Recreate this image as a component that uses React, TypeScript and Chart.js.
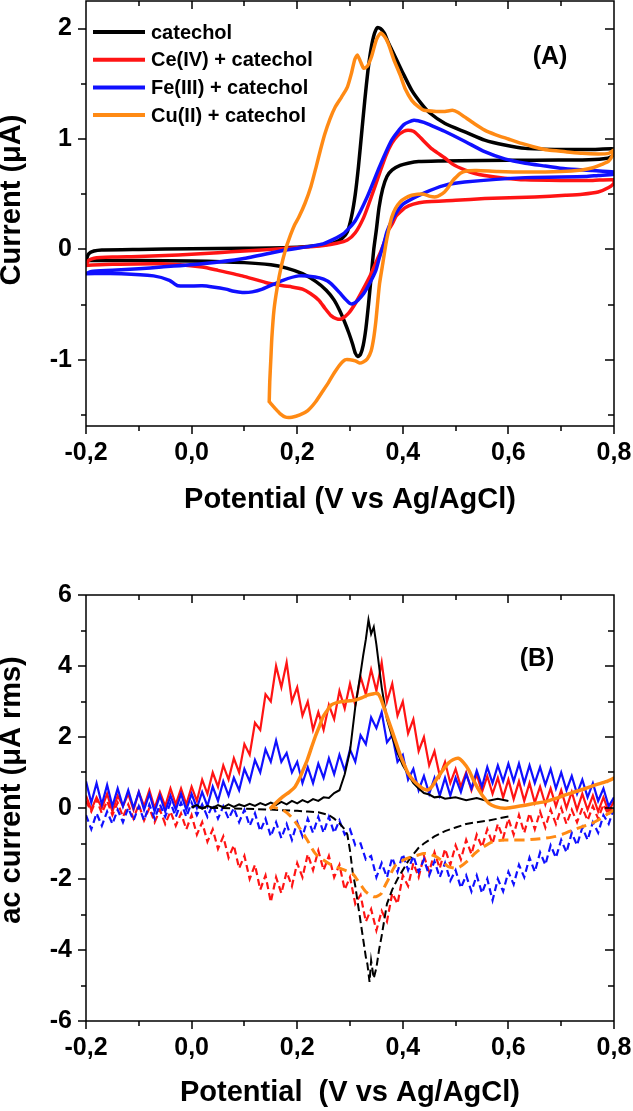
import React, { useEffect, useRef } from "react";
import { Chart, registerables } from "chart.js";
Chart.register(...registerables);

const FONT = "'Liberation Sans', Arial, Helvetica, sans-serif";
const BLACK = "#000000";
const RED = "#ff1414";
const BLUE = "#1010ff";
const ORANGE = "#ff8a14";

// ---------- axes ----------
const X_TICKS = [-0.2, 0, 0.2, 0.4, 0.6, 0.8];
const X_MINOR = [-0.1, 0.1, 0.3, 0.5, 0.7];
const YA_TICKS = [-1, 0, 1, 2];
const YA_MINOR = [-1.5, -0.5, 0.5, 1.5];
const YB_TICKS = [-6, -4, -2, 0, 2, 4, 6];
const YB_MINOR = [-5, -3, -1, 1, 3, 5];

const LEGEND_LABELS = ["catechol", "Ce(IV) + catechol", "Fe(III) + catechol", "Cu(II) + catechol"];
const LEGEND_COLORS = [BLACK, RED, BLUE, ORANGE];

// ---------- panel A: cyclic voltammograms [V, μA] ----------
const CATECHOL_A: number[][] = [
  [-0.2, -0.1], [-0.195, -0.04], [-0.185, -0.015], [-0.17, -0.005], [-0.1, 0.0], [0.0, 0.005], [0.1, 0.01],
  [0.2, 0.02], [0.24, 0.035], [0.27, 0.06], [0.285, 0.1], [0.295, 0.16], [0.303, 0.3], [0.31, 0.5],
  [0.316, 0.75], [0.322, 1.05], [0.328, 1.35], [0.334, 1.62], [0.34, 1.82], [0.346, 1.95], [0.352, 2.01],
  [0.358, 2.0], [0.365, 1.96], [0.372, 1.88], [0.38, 1.8], [0.39, 1.7], [0.4, 1.6], [0.417, 1.44],
  [0.435, 1.32], [0.45, 1.24], [0.48, 1.14], [0.52, 1.06], [0.555, 0.99], [0.593, 0.945], [0.632, 0.915],
  [0.7, 0.905], [0.76, 0.905], [0.8, 0.91],
  [0.8, 0.88], [0.795, 0.84], [0.78, 0.82], [0.74, 0.81], [0.65, 0.808], [0.55, 0.805], [0.47, 0.8],
  [0.43, 0.795], [0.41, 0.78], [0.395, 0.76], [0.38, 0.72], [0.37, 0.66], [0.362, 0.55], [0.355, 0.38],
  [0.35, 0.18], [0.345, 0.0], [0.34, -0.25], [0.335, -0.5], [0.33, -0.72], [0.325, -0.87], [0.32, -0.95],
  [0.315, -0.97], [0.31, -0.94], [0.305, -0.86], [0.298, -0.76], [0.29, -0.66], [0.28, -0.55], [0.27, -0.46],
  [0.255, -0.37], [0.235, -0.29], [0.21, -0.22], [0.18, -0.17], [0.15, -0.14], [0.1, -0.12], [0.0, -0.105],
  [-0.1, -0.1], [-0.2, -0.1],
];
const CE_A: number[][] = [
  [-0.2, -0.14], [-0.195, -0.1], [-0.185, -0.08], [-0.15, -0.07], [-0.1, -0.065], [-0.05, -0.055], [0.0, -0.045],
  [0.05, -0.03], [0.1, -0.015], [0.15, 0.0], [0.2, 0.015], [0.25, 0.035], [0.275, 0.055], [0.295, 0.085],
  [0.31, 0.15], [0.326, 0.29], [0.34, 0.47], [0.356, 0.69], [0.368, 0.85], [0.379, 0.96], [0.39, 1.03],
  [0.402, 1.07], [0.41, 1.08], [0.42, 1.07], [0.43, 1.03], [0.44, 0.98], [0.455, 0.91], [0.47, 0.86],
  [0.479, 0.83], [0.495, 0.77], [0.517, 0.72], [0.535, 0.69], [0.555, 0.67], [0.593, 0.645], [0.632, 0.63],
  [0.7, 0.625], [0.76, 0.625], [0.8, 0.63],
  [0.8, 0.6], [0.79, 0.56], [0.77, 0.52], [0.74, 0.5], [0.708, 0.49], [0.65, 0.475], [0.555, 0.46],
  [0.5, 0.445], [0.44, 0.43], [0.42, 0.41], [0.405, 0.38], [0.395, 0.34], [0.387, 0.3], [0.38, 0.23],
  [0.372, 0.17], [0.366, 0.08], [0.36, 0.0], [0.35, -0.11], [0.34, -0.22], [0.325, -0.36], [0.31, -0.49],
  [0.297, -0.58], [0.284, -0.63], [0.275, -0.63], [0.264, -0.6], [0.252, -0.53], [0.241, -0.46], [0.225, -0.4],
  [0.21, -0.36], [0.19, -0.34], [0.173, -0.33], [0.14, -0.3], [0.096, -0.24], [0.05, -0.19], [0.02, -0.16],
  [-0.057, -0.13], [-0.15, -0.135], [-0.2, -0.145],
];
const FE_A: number[][] = [
  [-0.2, -0.22], [-0.19, -0.2], [-0.15, -0.19], [-0.1, -0.175], [-0.057, -0.16], [0.02, -0.13], [0.096, -0.085],
  [0.173, -0.01], [0.249, 0.05], [0.287, 0.14], [0.31, 0.26], [0.333, 0.48], [0.356, 0.75], [0.379, 0.99],
  [0.402, 1.13], [0.421, 1.17], [0.44, 1.15], [0.46, 1.11], [0.479, 1.07], [0.517, 0.98], [0.555, 0.885],
  [0.593, 0.82], [0.632, 0.78], [0.67, 0.755], [0.708, 0.73], [0.76, 0.715], [0.8, 0.7],
  [0.8, 0.68], [0.77, 0.67], [0.746, 0.66], [0.632, 0.65], [0.517, 0.61], [0.479, 0.58], [0.44, 0.51],
  [0.402, 0.415], [0.39, 0.35], [0.379, 0.26], [0.37, 0.16], [0.364, 0.05], [0.356, -0.07], [0.349, -0.19],
  [0.338, -0.3], [0.326, -0.4], [0.315, -0.46], [0.307, -0.49], [0.3, -0.49], [0.291, -0.45], [0.28, -0.39],
  [0.264, -0.31], [0.25, -0.27], [0.234, -0.25], [0.203, -0.24], [0.173, -0.28], [0.134, -0.36], [0.115, -0.385],
  [0.096, -0.39], [0.08, -0.38], [0.065, -0.36], [0.04, -0.34], [0.02, -0.33], [-0.026, -0.33], [-0.042, -0.28],
  [-0.072, -0.24], [-0.133, -0.22], [-0.2, -0.22],
];
const CU_A: number[][] = [
  [0.147, -1.38], [0.148, -1.2], [0.15, -1.0], [0.152, -0.8], [0.156, -0.55], [0.162, -0.35], [0.17, -0.15],
  [0.178, 0.0], [0.185, 0.1], [0.195, 0.22], [0.203, 0.29], [0.215, 0.42], [0.226, 0.57], [0.236, 0.75],
  [0.244, 0.9], [0.252, 1.04], [0.262, 1.18], [0.272, 1.29], [0.284, 1.38], [0.295, 1.47], [0.303, 1.6],
  [0.309, 1.72], [0.314, 1.76], [0.32, 1.7], [0.326, 1.64], [0.333, 1.66], [0.341, 1.75], [0.35, 1.9],
  [0.358, 1.96], [0.365, 1.93], [0.372, 1.87], [0.383, 1.72], [0.395, 1.58], [0.405, 1.45], [0.417, 1.35],
  [0.43, 1.29], [0.44, 1.26], [0.463, 1.25], [0.48, 1.25], [0.494, 1.26], [0.505, 1.24], [0.517, 1.2],
  [0.535, 1.14], [0.555, 1.08], [0.575, 1.04], [0.6, 1.0], [0.625, 0.96], [0.647, 0.93], [0.675, 0.9],
  [0.708, 0.885], [0.74, 0.87], [0.77, 0.865], [0.79, 0.87], [0.8, 0.9],
  [0.8, 0.88], [0.79, 0.8], [0.777, 0.77], [0.76, 0.74], [0.739, 0.72], [0.7, 0.705], [0.632, 0.7],
  [0.58, 0.705], [0.54, 0.715], [0.52, 0.71], [0.509, 0.69], [0.5, 0.65], [0.494, 0.62], [0.486, 0.56],
  [0.479, 0.52], [0.47, 0.49], [0.463, 0.476], [0.452, 0.48], [0.44, 0.5], [0.428, 0.5], [0.417, 0.49],
  [0.405, 0.465], [0.395, 0.43], [0.386, 0.37], [0.379, 0.29], [0.373, 0.17], [0.368, 0.05], [0.362, -0.13],
  [0.356, -0.31], [0.352, -0.5], [0.349, -0.65], [0.345, -0.8], [0.34, -0.92], [0.333, -0.99], [0.325, -1.02],
  [0.318, -1.03], [0.31, -1.01], [0.3, -1.0], [0.291, -1.0], [0.28, -1.05], [0.27, -1.12], [0.26, -1.2],
  [0.249, -1.28], [0.235, -1.38], [0.22, -1.46], [0.205, -1.5], [0.19, -1.52], [0.178, -1.52], [0.168, -1.49],
  [0.158, -1.44], [0.147, -1.38],
];

// ---------- panel B: ac voltammograms ----------
const POT_B = [
  -0.2, -0.19, -0.18, -0.17, -0.16, -0.15, -0.14, -0.13, -0.12, -0.11, -0.1, -0.09, -0.08, -0.07, -0.06, -0.05,
  -0.04, -0.03, -0.02, -0.01, 0.0, 0.01, 0.02, 0.03, 0.04, 0.05, 0.06, 0.07, 0.08, 0.09, 0.1, 0.11, 0.12, 0.13,
  0.14, 0.15, 0.16, 0.17, 0.18, 0.19, 0.2, 0.21, 0.22, 0.23, 0.24, 0.25, 0.26, 0.27, 0.28, 0.29, 0.3, 0.31, 0.32,
  0.33, 0.34, 0.35, 0.36, 0.37, 0.38, 0.39, 0.4, 0.41, 0.42, 0.43, 0.44, 0.45, 0.46, 0.47, 0.48, 0.49, 0.5, 0.51,
  0.52, 0.53, 0.54, 0.55, 0.56, 0.57, 0.58, 0.59, 0.6, 0.61, 0.62, 0.63, 0.64, 0.65, 0.66, 0.67, 0.68, 0.69, 0.7,
  0.71, 0.72, 0.73, 0.74, 0.75, 0.76, 0.77, 0.78, 0.79, 0.8,
];
const CE_B_FWD = [
  0.35, -0.05, 0.3, 0.0, 0.4, -0.1, 0.35, 0.05, 0.4, -0.05, 0.45, 0.05, 0.5, 0.0, 0.45, 0.05,
  0.55, 0.1, 0.55, 0.1, 0.6, 0.2, 0.8, 0.4, 1.0, 0.6, 1.2, 0.8, 1.4, 1.0, 1.8, 1.5, 2.4, 2.2,
  3.2, 3.0, 4.0, 3.4, 4.1, 3.0, 3.4, 2.6, 3.0, 2.2, 2.7, 2.2, 2.9, 2.5, 3.3, 2.8, 3.5, 2.9, 3.7,
  3.2, 3.9, 3.3, 4.1, 3.0, 3.5, 2.6, 3.0, 2.1, 2.5, 1.6, 2.0, 1.2, 1.6, 0.9, 1.3, 0.7, 1.1, 0.6,
  1.0, 0.5, 0.95, 0.45, 0.9, 0.4, 0.85, 0.3, 0.8, 0.25, 0.75, 0.2, 0.7, 0.15, 0.6, 0.1, 0.55, 0.05, 0.5,
  0.0, 0.45, -0.05, 0.4, -0.05, 0.35, -0.1, 0.3, -0.1, 0.2,
];
const CE_B_REV = [
  0.2, -0.1, 0.25, -0.15, 0.2, -0.2, 0.15, -0.25, 0.1, -0.3, 0.1, -0.35, 0.0, -0.4, -0.05, -0.45,
  -0.1, -0.5, -0.15, -0.6, -0.2, -0.75, -0.4, -0.95, -0.6, -1.15, -0.8, -1.4, -1.05, -1.7, -1.35, -2.0, -1.6, -2.3,
  -1.9, -2.65, -1.95, -2.4, -1.8, -2.2, -1.55, -1.95, -1.3, -1.75, -1.2, -1.75, -1.35, -1.95, -1.6, -2.3, -1.95, -2.7, -2.45,
  -3.2, -2.85, -3.45, -2.9, -3.2, -2.4, -2.7, -1.9, -2.2, -1.55, -1.95, -1.35, -1.8, -1.25, -1.7, -1.15, -1.6, -1.05, -1.45,
  -0.9, -1.3, -0.75, -1.1, -0.6, -1.0, -0.45, -0.85, -0.3, -0.75, -0.2, -0.7, -0.15, -0.6, -0.1, -0.55, -0.05, -0.45, 0.0,
  -0.45, -0.05, -0.4, 0.0, -0.35, 0.05, -0.3, 0.1, -0.2, 0.2,
];
const FE_B_FWD = [
  0.75, 0.15, 0.7, 0.1, 0.65, 0.05, 0.55, 0.05, 0.5, 0.0, 0.45, -0.05, 0.4, -0.1, 0.35, -0.1,
  0.35, -0.05, 0.4, -0.05, 0.4, 0.0, 0.45, 0.05, 0.6, 0.2, 0.75, 0.35, 0.85, 0.5, 1.1, 0.75, 1.35, 1.0,
  1.65, 1.3, 1.9, 1.3, 1.55, 1.0, 1.3, 0.7, 1.15, 0.7, 1.25, 0.85, 1.4, 0.95, 1.5, 1.05, 1.65, 1.3, 2.05,
  1.8, 2.55, 2.25, 2.7, 1.85, 2.05, 1.3, 1.5, 0.8, 1.1, 0.5, 0.9, 0.4, 0.85, 0.35, 0.85, 0.35, 0.85, 0.45,
  0.95, 0.55, 1.05, 0.6, 1.15, 0.7, 1.2, 0.75, 1.25, 0.75, 1.25, 0.7, 1.2, 0.7, 1.15, 0.65, 1.1, 0.55, 1.0,
  0.5, 0.9, 0.4, 0.8, 0.3, 0.7, 0.2, 0.55, 0.05, 0.3,
];
const FE_B_REV = [
  -0.2, -0.6, -0.15, -0.5, -0.1, -0.45, -0.05, -0.4, 0.0, -0.35, 0.05, -0.35, 0.1, -0.3, 0.1, -0.25,
  0.15, -0.25, 0.15, -0.25, 0.15, -0.2, 0.1, -0.25, 0.1, -0.3, 0.05, -0.3, 0.0, -0.4, -0.05, -0.5, -0.15, -0.65,
  -0.3, -0.8, -0.4, -0.85, -0.45, -0.9, -0.4, -0.8, -0.3, -0.7, -0.25, -0.7, -0.25, -0.7, -0.35, -0.75, -0.6, -1.05, -1.0,
  -1.45, -1.35, -1.95, -1.55, -1.95, -1.4, -1.8, -1.3, -1.75, -1.35, -1.8, -1.45, -1.9, -1.5, -1.95, -1.55, -2.05, -1.75, -2.25,
  -1.9, -2.35, -1.9, -2.4, -2.0, -2.6, -2.0, -2.35, -1.8, -2.15, -1.6, -1.95, -1.4, -1.8, -1.25, -1.6, -1.05, -1.4, -0.9,
  -1.25, -0.7, -1.05, -0.55, -0.9, -0.4, -0.7, -0.2, -0.45, 0.0,
];
const CATECHOL_B_FWD: number[][] = [
  [0.0, 0.02], [0.01, 0.08], [0.02, -0.02], [0.03, 0.06], [0.04, 0.0], [0.05, 0.08], [0.06, 0.02], [0.07, 0.1],
  [0.08, 0.03], [0.09, 0.1], [0.1, 0.05], [0.11, 0.12], [0.12, 0.06], [0.13, 0.14], [0.14, 0.08], [0.15, 0.15],
  [0.16, 0.09], [0.17, 0.17], [0.18, 0.1], [0.19, 0.2], [0.2, 0.13], [0.21, 0.22], [0.22, 0.16], [0.23, 0.25],
  [0.24, 0.2], [0.25, 0.3], [0.26, 0.28], [0.27, 0.42], [0.28, 0.5], [0.29, 0.95], [0.3, 1.6], [0.31, 2.85],
  [0.32, 3.8], [0.325, 4.3], [0.33, 4.75], [0.335, 5.3], [0.34, 4.9], [0.345, 5.1], [0.35, 4.6], [0.355, 4.0],
  [0.36, 3.4], [0.37, 2.5], [0.38, 2.0], [0.39, 1.55], [0.4, 1.2], [0.41, 0.95], [0.42, 0.7], [0.43, 0.55],
  [0.44, 0.42], [0.45, 0.38], [0.46, 0.3], [0.47, 0.32], [0.48, 0.26], [0.5, 0.3], [0.52, 0.22], [0.54, 0.28],
  [0.56, 0.2], [0.58, 0.26], [0.6, 0.2],
];
const CATECHOL_B_REV: number[][] = [
  [0.6, -0.24], [0.58, -0.3], [0.56, -0.36], [0.54, -0.4], [0.52, -0.45], [0.5, -0.55], [0.48, -0.65],
  [0.46, -0.8], [0.45, -0.9], [0.44, -1.0], [0.43, -1.12], [0.42, -1.3], [0.41, -1.5], [0.4, -1.75],
  [0.39, -2.0], [0.38, -2.3], [0.37, -2.7], [0.36, -3.6], [0.355, -4.0], [0.35, -4.5], [0.345, -4.8],
  [0.34, -4.3], [0.337, -4.9], [0.333, -4.4], [0.33, -4.2], [0.325, -3.7], [0.32, -3.2], [0.315, -2.7],
  [0.31, -2.2], [0.305, -1.8], [0.3, -1.2], [0.295, -0.75], [0.29, -0.6], [0.28, -0.43], [0.27, -0.3],
  [0.26, -0.2], [0.24, -0.12], [0.22, -0.1], [0.2, -0.08], [0.17, -0.06], [0.14, -0.04], [0.1, -0.02],
  [0.05, 0.0], [0.0, 0.02],
];
const CU_B_FWD: number[][] = [
  [0.15, 0.0], [0.16, 0.15], [0.173, 0.32], [0.185, 0.45], [0.196, 0.6], [0.205, 0.85], [0.212, 1.1],
  [0.219, 1.35], [0.227, 1.7], [0.234, 2.0], [0.242, 2.3], [0.249, 2.57], [0.257, 2.75], [0.264, 2.9],
  [0.275, 2.97], [0.287, 3.0], [0.3, 3.02], [0.31, 3.04], [0.322, 3.1], [0.333, 3.18], [0.345, 3.22],
  [0.352, 3.23], [0.358, 3.1], [0.364, 2.85], [0.372, 2.5], [0.379, 2.2], [0.387, 1.85], [0.394, 1.54],
  [0.402, 1.25], [0.41, 0.98], [0.42, 0.78], [0.433, 0.6], [0.44, 0.53], [0.448, 0.51], [0.455, 0.6],
  [0.463, 0.79], [0.475, 1.05], [0.486, 1.26], [0.495, 1.36], [0.505, 1.4], [0.515, 1.28], [0.525, 1.07],
  [0.535, 0.75], [0.548, 0.41], [0.556, 0.25], [0.563, 0.13], [0.575, 0.04], [0.593, -0.01], [0.612, 0.03],
  [0.632, 0.08], [0.65, 0.13], [0.67, 0.18], [0.69, 0.27], [0.708, 0.37], [0.725, 0.45], [0.746, 0.55],
  [0.765, 0.65], [0.785, 0.74], [0.8, 0.84],
];
const CU_B_REV: number[][] = [
  [0.8, -0.05], [0.79, -0.15], [0.77, -0.34], [0.755, -0.45], [0.739, -0.53], [0.72, -0.63], [0.708, -0.71],
  [0.69, -0.8], [0.67, -0.85], [0.65, -0.88], [0.632, -0.9], [0.61, -0.9], [0.593, -0.9], [0.57, -0.95],
  [0.548, -1.14], [0.535, -1.3], [0.525, -1.46], [0.512, -1.62], [0.502, -1.7], [0.486, -1.65], [0.475, -1.5],
  [0.463, -1.37], [0.45, -1.3], [0.44, -1.28], [0.428, -1.33], [0.417, -1.37], [0.402, -1.46], [0.387, -1.6],
  [0.379, -1.8], [0.372, -2.03], [0.366, -2.2], [0.36, -2.4], [0.352, -2.48], [0.345, -2.5], [0.338, -2.45],
  [0.33, -2.36], [0.322, -2.2], [0.314, -2.03], [0.305, -1.85], [0.295, -1.78], [0.285, -1.72], [0.272, -1.65],
  [0.264, -1.6], [0.249, -1.46], [0.234, -1.28], [0.219, -0.9], [0.203, -0.53], [0.188, -0.24], [0.173, -0.06],
  [0.15, 0.04],
];

// ---------- helpers ----------
const pairs = (arr: number[][]) => arr.map(([x, y]) => ({ x, y }));
const zipPot = (ys: number[]) => ys.map((y, i) => ({ x: POT_B[i], y }));
const fmtX = (v: number) => (Math.abs(v) < 1e-9 ? "0,0" : v.toFixed(1).replace(".", ","));

type FrameCfg = {
  xMajor: number[]; xMinor: number[]; yMajor: number[]; yMinor: number[];
  xTitle: string; xTitleY: number; yTitle: string; yTitleX: number; yTitleY: number;
  panel: string; panelX: number; panelY: number; legend: boolean;
};

function framePlugin(c: FrameCfg) {
  return {
    id: "frame",
    afterDraw(chart: any) {
      const { ctx, chartArea: a } = chart;
      const xs = chart.scales.x;
      const ys = chart.scales.y;
      ctx.save();
      ctx.strokeStyle = "#000";
      ctx.lineWidth = 1.5;
      ctx.beginPath();
      ctx.rect(a.left, a.top, a.right - a.left, a.bottom - a.top);
      const MAJ = 8, MIN = 5;
      const xt = (vals: number[], len: number) => {
        for (const v of vals) {
          const p = Math.round(xs.getPixelForValue(v));
          ctx.moveTo(p, a.bottom); ctx.lineTo(p, a.bottom + len);
          ctx.moveTo(p, a.top); ctx.lineTo(p, a.top + len);
        }
      };
      const yt = (vals: number[], len: number) => {
        for (const v of vals) {
          const p = Math.round(ys.getPixelForValue(v));
          ctx.moveTo(a.left, p); ctx.lineTo(a.left - len, p);
          ctx.moveTo(a.right, p); ctx.lineTo(a.right - len - 1, p);
        }
      };
      xt(c.xMajor, MAJ); xt(c.xMinor, MIN);
      yt(c.yMajor, MAJ); yt(c.yMinor, MIN);
      ctx.stroke();

      ctx.fillStyle = "#000";
      ctx.textAlign = "center";
      ctx.textBaseline = "middle";
      ctx.font = `bold 29px ${FONT}`;
      ctx.fillText(c.xTitle, (a.left + a.right) / 2, c.xTitleY);
      ctx.save();
      ctx.translate(c.yTitleX, c.yTitleY);
      ctx.rotate(-Math.PI / 2);
      ctx.fillText(c.yTitle, 0, 0);
      ctx.restore();

      ctx.font = `bold 25px ${FONT}`;
      ctx.fillText(c.panel, c.panelX, c.panelY);

      if (c.legend) {
        ctx.textAlign = "left";
        ctx.font = `bold 20px ${FONT}`;
        LEGEND_LABELS.forEach((lab, i) => {
          const yy = 32 + i * 27.7;
          ctx.strokeStyle = LEGEND_COLORS[i];
          ctx.lineWidth = 4;
          ctx.beginPath();
          ctx.moveTo(93, yy); ctx.lineTo(145, yy);
          ctx.stroke();
          ctx.fillStyle = "#000";
          ctx.fillText(lab, 151, yy + 1);
        });
      }
      ctx.restore();
    },
  };
}

const zeroPad = (s: any) => {
  s.paddingTop = 0; s.paddingBottom = 0; s.paddingLeft = 0; s.paddingRight = 0;
};

function makeScales(yMin: number, yMax: number, yTicks: number[], xHeight: number) {
  const tickFont = { family: FONT, size: 25, weight: "bold" as const };
  return {
    x: {
      type: "linear" as const, min: -0.2, max: 0.8,
      afterBuildTicks: (s: any) => { s.ticks = X_TICKS.map((value) => ({ value })); },
      afterFit: (s: any) => { s.height = xHeight; zeroPad(s); },
      grid: { display: false, drawTicks: false },
      border: { display: false },
      ticks: { autoSkip: false, maxRotation: 0, minRotation: 0, padding: 12, color: "#000", font: tickFont, callback: (v: any) => fmtX(Number(v)) },
    },
    y: {
      type: "linear" as const, min: yMin, max: yMax,
      afterBuildTicks: (s: any) => { s.ticks = yTicks.map((value) => ({ value })); },
      afterFit: (s: any) => { s.width = 86; zeroPad(s); },
      grid: { display: false, drawTicks: false },
      border: { display: false },
      ticks: { autoSkip: false, padding: 14, color: "#000", font: tickFont, callback: (v: any) => String(Math.round(Number(v))) },
    },
  };
}

function useChart(ref: React.RefObject<HTMLCanvasElement>, build: () => any) {
  useEffect(() => {
    if (!ref.current) return;
    const chart = new Chart(ref.current, build());
    return () => chart.destroy();
  }, []);
}

const lineA = (label: string, data: number[][], color: string) => ({
  label, data: pairs(data), borderColor: color, backgroundColor: color, borderWidth: 3.5,
  pointRadius: 0, showLine: true, tension: 0.2, borderCapStyle: "round", borderJoinStyle: "round",
});

export default function App() {
  const refA = useRef<HTMLCanvasElement>(null);
  const refB = useRef<HTMLCanvasElement>(null);

  useChart(refA, () => ({
    type: "scatter",
    data: {
      datasets: [
        lineA(LEGEND_LABELS[3], CU_A, ORANGE),
        lineA(LEGEND_LABELS[2], FE_A, BLUE),
        lineA(LEGEND_LABELS[1], CE_A, RED),
        lineA(LEGEND_LABELS[0], CATECHOL_A, BLACK),
      ],
    },
    options: {
      animation: false, responsive: false, maintainAspectRatio: false,
      layout: { padding: { top: 1, right: 19, left: 0, bottom: 0 } },
      plugins: { legend: { display: false }, tooltip: { enabled: false } },
      scales: makeScales(-1.6, 2.25, YA_TICKS, 114),
    },
    plugins: [framePlugin({
      xMajor: X_TICKS, xMinor: X_MINOR, yMajor: YA_TICKS, yMinor: YA_MINOR,
      xTitle: "Potential (V vs Ag/AgCl)", xTitleY: 500,
      yTitle: "Current (μA)", yTitleX: 12, yTitleY: 200,
      panel: "(A)", panelX: 550, panelY: 57, legend: true,
    })],
  }));

  useChart(refB, () => ({
    type: "scatter",
    data: {
      datasets: [
        { label: "Cu(II) + catechol", data: pairs(CU_B_FWD), borderColor: ORANGE, borderWidth: 3.5, pointRadius: 0, showLine: true, tension: 0.2, borderCapStyle: "round" },
        { label: "Cu(II) + catechol (reverse)", data: pairs(CU_B_REV), borderColor: ORANGE, borderWidth: 3, pointRadius: 0, showLine: true, tension: 0.2, borderDash: [10, 6] },
        { label: "catechol", data: pairs(CATECHOL_B_FWD), borderColor: BLACK, borderWidth: 2, pointRadius: 0, showLine: true },
        { label: "catechol (reverse)", data: pairs(CATECHOL_B_REV), borderColor: BLACK, borderWidth: 2, pointRadius: 0, showLine: true, borderDash: [8, 4] },
        { label: "Fe(III) + catechol", data: zipPot(FE_B_FWD), borderColor: BLUE, borderWidth: 2.2, pointRadius: 0, showLine: true },
        { label: "Fe(III) + catechol (reverse)", data: zipPot(FE_B_REV), borderColor: BLUE, borderWidth: 2.2, pointRadius: 0, showLine: true, borderDash: [7, 4] },
        { label: "Ce(IV) + catechol", data: zipPot(CE_B_FWD), borderColor: RED, borderWidth: 2.2, pointRadius: 0, showLine: true },
        { label: "Ce(IV) + catechol (reverse)", data: zipPot(CE_B_REV), borderColor: RED, borderWidth: 2.2, pointRadius: 0, showLine: true, borderDash: [7, 4] },
      ],
    },
    options: {
      animation: false, responsive: false, maintainAspectRatio: false,
      layout: { padding: { top: 55, right: 19, left: 0, bottom: 0 } },
      plugins: { legend: { display: false }, tooltip: { enabled: false } },
      scales: makeScales(-6, 6, YB_TICKS, 90),
    },
    plugins: [framePlugin({
      xMajor: X_TICKS, xMinor: X_MINOR, yMajor: YB_TICKS, yMinor: YB_MINOR,
      xTitle: "Potential  (V vs Ag/AgCl)", xTitleY: 553,
      yTitle: "ac current (μA rms)", yTitleX: 12, yTitleY: 250,
      panel: "(B)", panelX: 537, panelY: 119, legend: false,
    })],
  }));

  return (
    <div style={{ position: "absolute", left: 0, top: 0, width: 633, height: 1111, background: "#fff" }}>
      <canvas ref={refA} width={633} height={540} style={{ position: "absolute", left: 0, top: 0, width: 633, height: 540 }} />
      <canvas ref={refB} width={633} height={571} style={{ position: "absolute", left: 0, top: 540, width: 633, height: 571 }} />
    </div>
  );
}
